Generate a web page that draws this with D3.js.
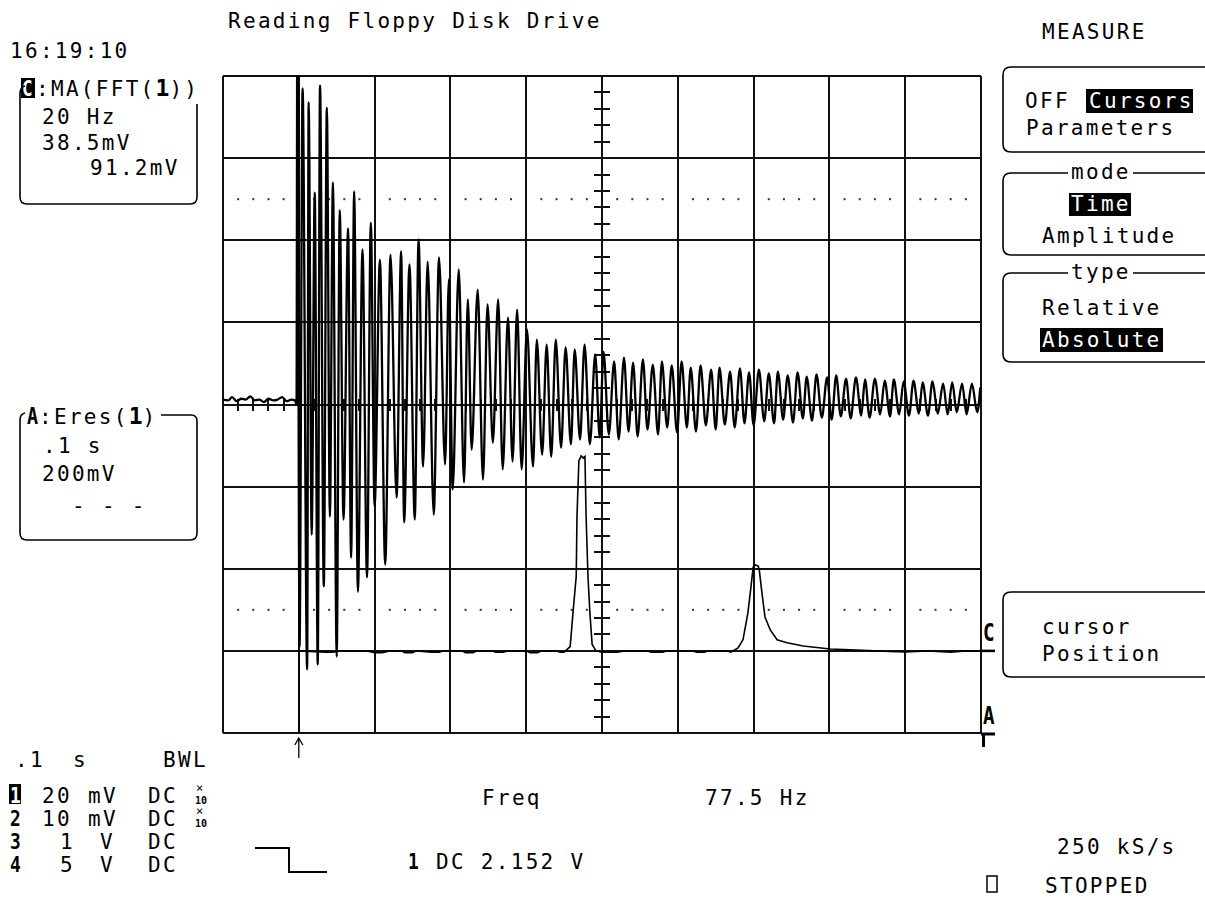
<!DOCTYPE html>
<html>
<head>
<meta charset="utf-8">
<script src="https://cdn.jsdelivr.net/npm/d3@7"></script>
<style>
  body { margin: 0; background: #fff; }
  text { font-family: "DejaVu Sans Mono", monospace; font-size: 21px; letter-spacing: 2.3px; fill: #000; }
  .bold { font-weight: bold; letter-spacing: 0; }
</style>
</head>
<body>
<div id="chart"></div>
<script>
// screen grid: 10 x 8 divisions
const grid = {left: 223, right: 981, top: 76, bottom: 733};

// trace A : Eres(1), 0.1 s/div, 200 mV/div. [ms after trigger, mV]
const aPre = [[-100, 12], [-93, 10], [-88, 18], [-82, 8], [-76, 14], [-70, 12], [-64, 20], [-58, 10],
  [-52, 12], [-46, 6], [-40, 14], [-34, 10], [-28, 12], [-22, 18], [-16, 8], [-10, 12], [-5, 10], [-3, 0]];
const aBurst = [[-2, 900], [1, -590], [5, 770], [11, -645], [13, 736], [17, -317], [21, 516], [25, -633],
  [28, 777], [33, -443], [37, 723], [41, -273], [45, 541], [50, -614], [54, 473], [59, -280],
  [65, 429], [69, -373], [73, 519], [78, -456], [84, 378], [90, -421], [95, 443], [100, -248],
  [107, 353], [114, -390], [121, 365], [129, -227], [135, 373], [139, -287], [146, 341], [153, -280],
  [158, 402], [164, -151], [170, 348], [178, -268], [185, 358], [193, -146], [198, 305], [203, -207],
  [211, 329], [218, -190], [223, 256], [228, -110], [236, 280], [243, -183], [249, 244], [256, -93],
  [263, 256], [269, -158]];
const aRing = [[276, 212], [282, -139], [288, 231], [294, -158], [301, 183], [309, -151], [314, 158], [321, -122],
  [327, 146], [333, -127], [339, 158], [346, -105], [352, 139], [359, -97], [364, 134], [371, -85],
  [377, 146], [384, -97], [391, 122], [397, -80], [402, 129], [409, -73], [416, 105], [422, -85],
  [429, 114], [435, -66], [441, 102], [447, -78], [454, 110], [460, -61], [467, 97], [474, -73],
  [479, 105], [486, -56], [492, 95], [499, -68], [505, 105], [512, -56], [517, 90], [524, -66],
  [530, 95], [537, -51], [544, 85], [550, -61], [555, 90], [562, -49], [569, 80], [575, -56],
  [582, 88], [588, -46], [594, 78], [600, -51], [607, 85], [614, -41], [620, 76], [627, -46],
  [632, 80], [639, -37], [645, 71], [652, -44], [658, 78], [665, -34], [670, 68], [677, -39],
  [683, 73], [690, -32], [697, 66], [703, -37], [709, 71], [715, -29], [722, 63], [728, -34],
  [735, 66], [742, -27], [747, 61], [753, -32], [760, 63], [767, -24], [773, 58], [780, -29],
  [785, 61], [792, -24], [798, 56], [805, -27], [811, 58], [818, -22], [823, 54], [830, -27],
  [836, 56], [843, -22], [850, 51], [856, -24], [862, 54], [868, -19], [875, 51], [881, -24],
  [888, 51], [895, -19], [899, 41]];

// trace C : MA(FFT(1)), 20 Hz/div, 38.5 mV/div. [Hz, mV]
const cFloor = [[20, 0], [27, -0.6], [29, -0.6], [31, 0], [38, 0], [40, -0.8], [42, -0.8], [44, 0],
  [47, 0], [48, -0.8], [50, -0.8], [51, 0], [55, -0.6], [57, -0.6], [58, 0], [63, 0], [64, -0.8],
  [66, -0.8], [67, 0], [71, 0], [72, -0.6], [74, -0.6], [75, 0], [80, 0], [81, -0.8], [83, -0.8],
  [84, 0], [88, 0], [89, -0.6], [90, -0.6]];
const cPeak1 = [[91.6, 2], [92.4, 19], [93.2, 35], [93.4, 63], [93.9, 89], [94.5, 91.4], [95, 90.5],
  [95.5, 91.2], [95.8, 63], [96.3, 35], [96.8, 18], [97.4, 3], [98.4, 0], [100, -0.6], [104, -0.6],
  [106, 0], [112, 0], [113, -0.6], [116, -0.6], [117, 0], [124, 0], [125, -0.6], [127, -0.6],
  [128, 0], [133, 0], [134, -0.6]];
const cPeak2 = [[135.9, 1.4], [137.2, 5.2], [138.5, 17.8], [139.3, 30], [139.9, 39.4], [140.4, 40.3],
  [141.2, 39.8], [141.5, 38], [142.2, 27.2], [143, 15.9], [144.4, 9.8], [146.2, 5.2], [148.8, 3.8],
  [153.1, 2.3], [160.2, 0.9], [165.5, 0.5], [172, 0], [180, -0.5], [186, 0], [192, -0.6], [196, 0], [200, 0]];

const timeDomain = [-100, 900];
const voltDomain = [-800, 800];
const freqDomain = [0, 200];
const magDomain = [-38.5, 269.5];
const cursorTime = 0;

const svg = d3.select("#chart").append("svg")
    .attr("width", 1205)
    .attr("height", 899);

const x = d3.scaleLinear().domain(timeDomain).range([grid.left, grid.right]);
const y = d3.scaleLinear().domain(voltDomain).range([grid.bottom, grid.top]);
const xf = d3.scaleLinear().domain(freqDomain).range([grid.left, grid.right]);
const yf = d3.scaleLinear().domain(magDomain).range([grid.bottom, grid.top]);
const gx = d3.scaleLinear().domain([0, 10]).range([grid.left, grid.right]);
const gy = d3.scaleLinear().domain([0, 8]).range([grid.top, grid.bottom]);

// grid
const g = svg.append("g")
    .attr("stroke", "#111")
    .attr("stroke-width", 2)
    .attr("shape-rendering", "crispEdges");
g.selectAll(".vl").data(d3.range(11)).join("line").attr("class", "vl")
    .attr("x1", gx).attr("x2", gx).attr("y1", grid.top).attr("y2", grid.bottom);
g.selectAll(".hl").data(d3.range(9)).join("line").attr("class", "hl")
    .attr("y1", gy).attr("y2", gy).attr("x1", grid.left).attr("x2", grid.right);

// minor ticks on the centre axes
const fifths = n => d3.range(1, n * 5).filter(k => k % 5).map(k => k / 5);
g.selectAll(".vt").data(fifths(8)).join("line").attr("class", "vt")
    .attr("x1", gx(5) - 8).attr("x2", gx(5) + 8).attr("y1", gy).attr("y2", gy);
g.selectAll(".ht").data(fifths(10)).join("line").attr("class", "ht")
    .attr("x1", gx).attr("x2", gx).attr("y1", gy(4) - 6).attr("y2", gy(4) + 6);

// dotted rows
[1.5, 6.5].forEach(function(row) {
    svg.append("g").selectAll("rect").data(fifths(10)).join("rect")
        .attr("x", d => gx(d) - 1).attr("y", gy(row) - 1)
        .attr("width", 2).attr("height", 2).attr("fill", "#333");
});

svg.append("clipPath").attr("id", "screen").append("rect")
    .attr("x", grid.left).attr("y", grid.top)
    .attr("width", grid.right - grid.left).attr("height", grid.bottom - grid.top);

// trace C
const fftLine = d3.line().x(d => xf(d[0])).y(d => yf(d[1]));
svg.append("path")
    .datum(cFloor.concat(cPeak1, cPeak2))
    .attr("d", fftLine)
    .attr("fill", "none").attr("stroke", "#000").attr("stroke-width", 1.6)
    .attr("clip-path", "url(#screen)");

// trace A
const aLine = d3.line().x(d => x(d[0])).y(d => y(d[1])).curve(d3.curveMonotoneX);
svg.append("path")
    .datum(aPre.concat(aBurst, aRing))
    .attr("d", aLine)
    .attr("fill", "none").attr("stroke", "#000").attr("stroke-width", 2.3)
    .attr("clip-path", "url(#screen)");

// time cursor
svg.append("line")
    .attr("x1", x(cursorTime)).attr("x2", x(cursorTime))
    .attr("y1", grid.top).attr("y2", grid.bottom)
    .attr("stroke", "#000").attr("stroke-width", 1.5);
svg.append("path")
    .attr("d", `M${x(cursorTime)},758V738M${x(cursorTime) - 4},745L${x(cursorTime)},738L${x(cursorTime) + 4},745`)
    .attr("fill", "none").attr("stroke", "#000").attr("stroke-width", 1.3);

// ground markers at right edge
svg.append("text").attr("class", "bold").attr("x", 983).attr("y", 641)
    .style("font-size", "24px").attr("transform", "translate(983,0) scale(0.8,1) translate(-983,0)").text("C");
svg.append("line").attr("x1", grid.right).attr("x2", 995).attr("y1", yf(0)).attr("y2", yf(0))
    .attr("stroke", "#000").attr("stroke-width", 2.5);
svg.append("text").attr("class", "bold").attr("x", 983).attr("y", 724)
    .style("font-size", "24px").attr("transform", "translate(983,0) scale(0.8,1) translate(-983,0)").text("A");
svg.append("path").attr("d", "M981,734H995M983.5,734V747")
    .attr("fill", "none").attr("stroke", "#000").attr("stroke-width", 3);

function label(px, py, str, size) {
    const t = svg.append("text").attr("x", px).attr("y", py).text(str);
    if (size) t.style("font-size", size + "px");
    return t;
}
function inverted(px, py, str, box) {
    svg.append("rect").attr("x", box[0]).attr("y", box[1])
        .attr("width", box[2]).attr("height", box[3]).attr("fill", "#000");
    return label(px, py, str).style("fill", "#fff");
}
function bigDigit(px, py, str) {
    return svg.append("text").attr("class", "bold")
        .attr("transform", `translate(${px},${py}) scale(0.85,1)`)
        .style("font-size", "21px").text(str);
}
const frame = d => svg.append("path").attr("d", d)
    .attr("fill", "none").attr("stroke", "#000").attr("stroke-width", 1.6);

// header
label(228, 28, "Reading Floppy Disk Drive");
label(10, 58, "16:19:10");
label(1042, 39, "MEASURE");

// C box
svg.append("rect").attr("x", 21).attr("y", 78).attr("width", 14).attr("height", 20).attr("fill", "#000");
svg.append("text").attr("class", "bold").attr("x", 22).attr("y", 96).style("fill", "#fff")
    .style("font-size", "22px").attr("transform", "translate(22,0) scale(0.8,1) translate(-22,0)").text("C");
const cl = label(36, 96, ":MA(FFT(");
cl.append("tspan").attr("class", "bold").style("font-size", "23px").text("1");
cl.append("tspan").text("))");
frame("M25,86Q20,87 20,94V197Q20,204 27,204H190Q197,204 197,197V104");
label(42, 124, "20 Hz");
label(42, 150, "38.5mV");
label(90, 175, "91.2mV");

// A box
svg.append("text").attr("class", "bold").attr("x", 27).attr("y", 424)
    .style("font-size", "23px").attr("transform", "translate(27,0) scale(0.8,1) translate(-27,0)").text("A");
const al = label(39, 424, ":Eres(");
al.append("tspan").attr("class", "bold").style("font-size", "23px").text("1");
al.append("tspan").text(")");
frame("M161,415H191Q197,415 197,421V533Q197,540 190,540H27Q20,540 20,533V420Q20,414 25,413");
label(43, 453, ".1 s");
label(42, 481, "200mV");
label(72, 513, "- - -");

// right hand menu
const menuBox = (top, bottom) => `M1215,${top}H1011Q1003,${top} 1003,${top + 8}V${bottom - 8}Q1003,${bottom} 1011,${bottom}H1215`;
const titledBox = (top, bottom, gap) => `M${gap[0]},${top}H1011Q1003,${top} 1003,${top + 8}V${bottom - 8}Q1003,${bottom} 1011,${bottom}H1215M1215,${top}H${gap[1]}`;
frame(menuBox(67, 152));
label(1025, 108, "OFF");
inverted(1089, 108, "Cursors", [1086, 89, 107, 24]);
label(1026, 135, "Parameters");

frame(titledBox(173, 255, [1068, 1133]));
label(1071, 179, "mode");
inverted(1071, 211, "Time", [1069, 193, 62, 23]);
label(1042, 243, "Amplitude");

frame(titledBox(273, 362, [1068, 1133]));
label(1071, 279, "type");
label(1042, 315, "Relative");
inverted(1042, 347, "Absolute", [1040, 328, 123, 24]);

frame(menuBox(592, 677));
label(1042, 634, "cursor");
label(1042, 661, "Position");

// channel settings
label(15, 767, ".1");
label(73, 767, "s");
label(163, 767, "BWL");
const rows = [
    {ch: "1", val: "20", vx: 42, unit: "mV", ux: 88, probe: true},
    {ch: "2", val: "10", vx: 42, unit: "mV", ux: 88, probe: true},
    {ch: "3", val: "1", vx: 60, unit: "V", ux: 100, probe: false},
    {ch: "4", val: "5", vx: 60, unit: "V", ux: 100, probe: false}
];
const rowY = [803, 826, 849, 872];
rows.forEach(function(r, i) {
    const by = rowY[i];
    if (i === 0) {
        svg.append("rect").attr("x", 9).attr("y", by - 19).attr("width", 12).attr("height", 20).attr("fill", "#000");
        bigDigit(10, by, r.ch).style("fill", "#fff");
    } else {
        bigDigit(10, by, r.ch);
    }
    label(r.vx, by, r.val);
    label(r.ux, by, r.unit);
    label(148, by, "DC");
    if (r.probe) {
        label(196, by - 11, "\u00d7", 12).style("letter-spacing", "0");
        label(195, by + 1, "10", 10).attr("class", "bold");
    }
});

// trigger and measurement readout
label(482, 805, "Freq");
label(705, 805, "77.5 Hz");
svg.append("path").attr("d", "M255,848H289V872H327")
    .attr("fill", "none").attr("stroke", "#000").attr("stroke-width", 2);
bigDigit(408, 869, "1");
label(436, 869, "DC 2.152 V");
label(1057, 854, "250 kS/s");
svg.append("rect").attr("x", 987).attr("y", 876).attr("width", 10).attr("height", 16)
    .attr("fill", "none").attr("stroke", "#000").attr("stroke-width", 1.5);
label(1045, 893, "STOPPED");
</script>
</body>
</html>
